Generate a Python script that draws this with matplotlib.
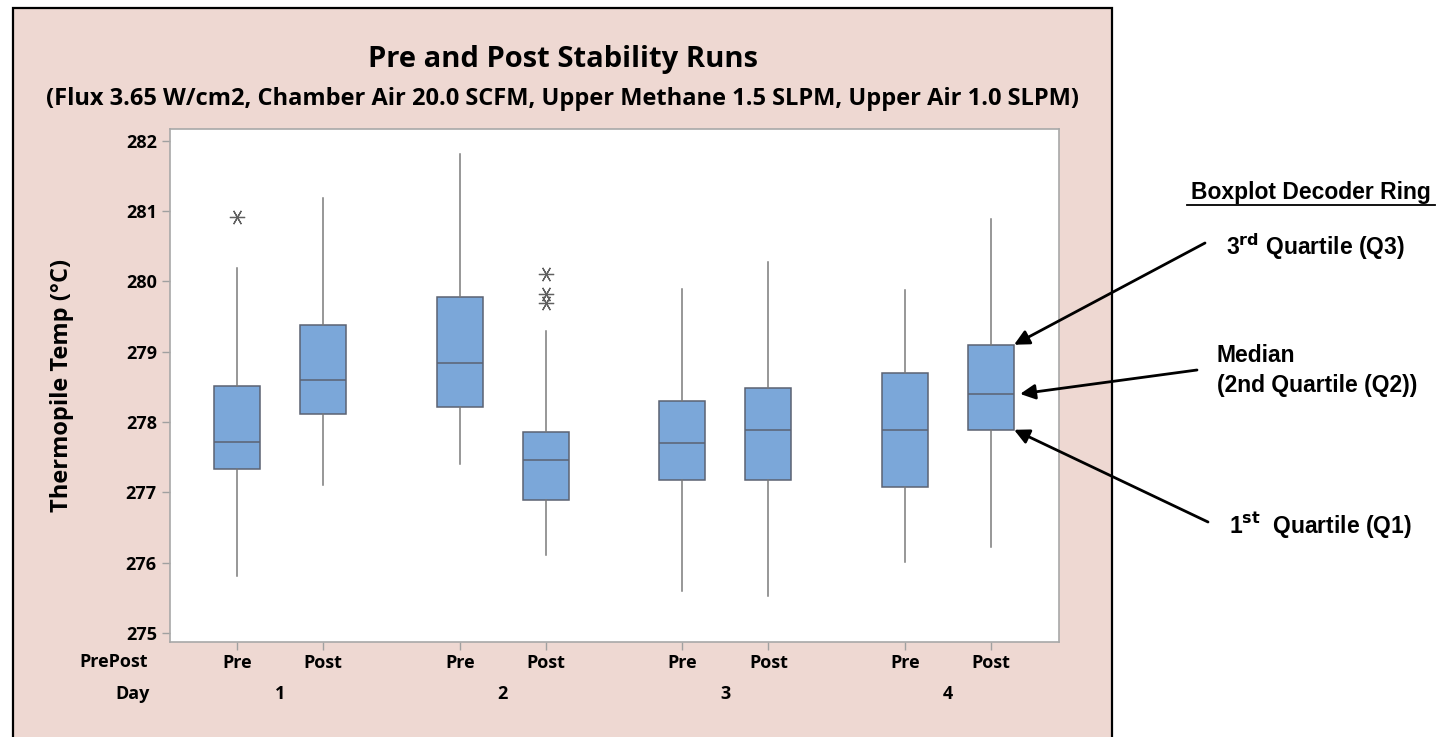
import matplotlib
matplotlib.use("Agg")
import matplotlib.pyplot as plt
from matplotlib.patches import Rectangle
from matplotlib.transforms import blended_transform_factory

# values
days = ["1", "2", "3", "4"]
prepost = ["Pre", "Post"]
whislo = [275.81, 277.10, 277.41, 276.11, 275.59, 275.52, 276.01, 276.22]
q1 = [277.33, 278.12, 278.22, 276.89, 277.18, 277.18, 277.08, 277.89]
med = [277.71, 278.60, 278.84, 277.46, 277.70, 277.89, 277.89, 278.40]
q3 = [278.51, 279.38, 279.78, 277.86, 278.30, 278.48, 278.70, 279.10]
whishi = [280.19, 281.19, 281.81, 279.29, 279.90, 280.28, 279.88, 280.89]
outliers = [[280.92], [], [], [280.11, 279.82, 279.70], [], [], [], []]
yticks = [275, 276, 277, 278, 279, 280, 281, 282]

W, H = 1450, 737
pink = "#eed8d2"
box_col = "#7ba7d9"
edge_col = "#5b6272"
font = "Open Sans"
arial = "Liberation Sans"
wt = "bold"


def fx(px):
    return px / W


def fy(py):
    return 1 - py / H


fig = plt.figure(figsize=(W / 100, H / 100), dpi=100)
fig.patch.set_facecolor("white")

# pink panel with black frame
fig.patches.append(Rectangle((fx(13), fy(745)), fx(1112) - fx(13), fy(8) - fy(745),
                             transform=fig.transFigure, facecolor=pink,
                             edgecolor="black", linewidth=1.6, zorder=0))

ax = fig.add_axes([fx(170), fy(642), fx(1059) - fx(170), fy(129) - fy(642)])
ax.set_zorder(3)
ax.set_facecolor("white")

gap = 2.59
positions = []
for g in range(len(days)):
    positions += [g * gap, g * gap + 1]

stats = []
for i in range(len(positions)):
    stats.append(dict(whislo=whislo[i], q1=q1[i], med=med[i], q3=q3[i],
                      whishi=whishi[i], fliers=outliers[i]))

bw = 0.535
ax.bxp(stats, positions=positions, widths=bw, patch_artist=True, showcaps=False,
       boxprops=dict(facecolor=box_col, edgecolor=edge_col, linewidth=1.1),
       medianprops=dict(color=edge_col, linewidth=1.1),
       whiskerprops=dict(color="#7a7a7a", linewidth=1.1),
       flierprops=dict(marker=(6, 2, 90), markersize=11, markeredgecolor="#606060",
                       markeredgewidth=0.9, linestyle="none"))

ax.set_xlim(-0.78, 9.56)
ax.set_ylim(274.87, 282.17)
ax.set_yticks(yticks)
ax.set_yticklabels([str(t) for t in yticks], fontsize=13, family=font, fontweight=wt)
ax.set_xticks(positions)
ax.set_xticklabels(prepost * len(days), fontsize=13, family=font, fontweight=wt)
ax.tick_params(axis="both", colors="#a0a0a0", labelcolor="black", length=6, width=1)
ax.tick_params(axis="x", pad=3)
for s in ax.spines.values():
    s.set_color("#a8a8a8")
    s.set_linewidth(1.2)

# secondary x labels
tr = blended_transform_factory(ax.transData, fig.transFigure)
for g, d in enumerate(days):
    ax.text(g * gap + 0.5, fy(694), d, transform=tr, ha="center", va="center",
            fontsize=13, family=font, fontweight=wt, clip_on=False)
fig.text(fx(148), fy(662), "PrePost", ha="right", va="center", fontsize=13,
         family=font, fontweight=wt)
fig.text(fx(150), fy(694), "Day", ha="right", va="center", fontsize=13,
         family=font, fontweight=wt)

fig.text(fx(62), fy(385), "Thermopile Temp (°C)", rotation=90, ha="center", va="center",
         fontsize=17, family=font, fontweight=wt)

fig.text(fx(563), fy(60), "Pre and Post Stability Runs", ha="center", va="center",
         fontsize=21, family=font, fontweight=wt)
fig.text(fx(563), fy(99),
         "(Flux 3.65 W/cm2, Chamber Air 20.0 SCFM, Upper Methane 1.5 SLPM, Upper Air 1.0 SLPM)",
         ha="center", va="center", fontsize=17, family=font, fontweight=wt)

# decoder ring annotations
fs = 16.5
fig.text(fx(1311), fy(193), "Boxplot Decoder Ring", ha="center", va="center",
         fontsize=fs, family=arial, fontweight="bold")
fig.add_artist(plt.Line2D([fx(1187), fx(1435)], [fy(205), fy(205)], color="black", lw=1.3))
fig.text(fx(1226), fy(247), r"3$^{\mathbf{rd}}$ Quartile (Q3)", ha="left", va="center",
         fontsize=fs, family=arial, fontweight="bold")
fig.text(fx(1217), fy(356), "Median", ha="left", va="center",
         fontsize=fs, family=arial, fontweight="bold")
fig.text(fx(1217), fy(386), "(2nd Quartile (Q2))", ha="left", va="center",
         fontsize=fs, family=arial, fontweight="bold")
fig.text(fx(1229), fy(525), r"1$^{\mathbf{st}}$  Quartile (Q1)", ha="left", va="center",
         fontsize=fs, family=arial, fontweight="bold")

x_edge = positions[-1] + bw / 2
arrow = dict(arrowstyle="-|>,head_length=0.9,head_width=0.45", color="black", lw=2,
             shrinkA=0, shrinkB=0)
for yv, (tx, ty), dx in [(q3[-1], (1205, 243), 0.0), (med[-1], (1197, 370), 0.07),
                         (q1[-1], (1208, 522), 0.0)]:
    ax.annotate("", xy=(x_edge + dx, yv), xycoords="data",
                xytext=(fx(tx), fy(ty)), textcoords="figure fraction",
                arrowprops=arrow, annotation_clip=False)

fig.savefig("out.png", dpi=100, facecolor="white")
